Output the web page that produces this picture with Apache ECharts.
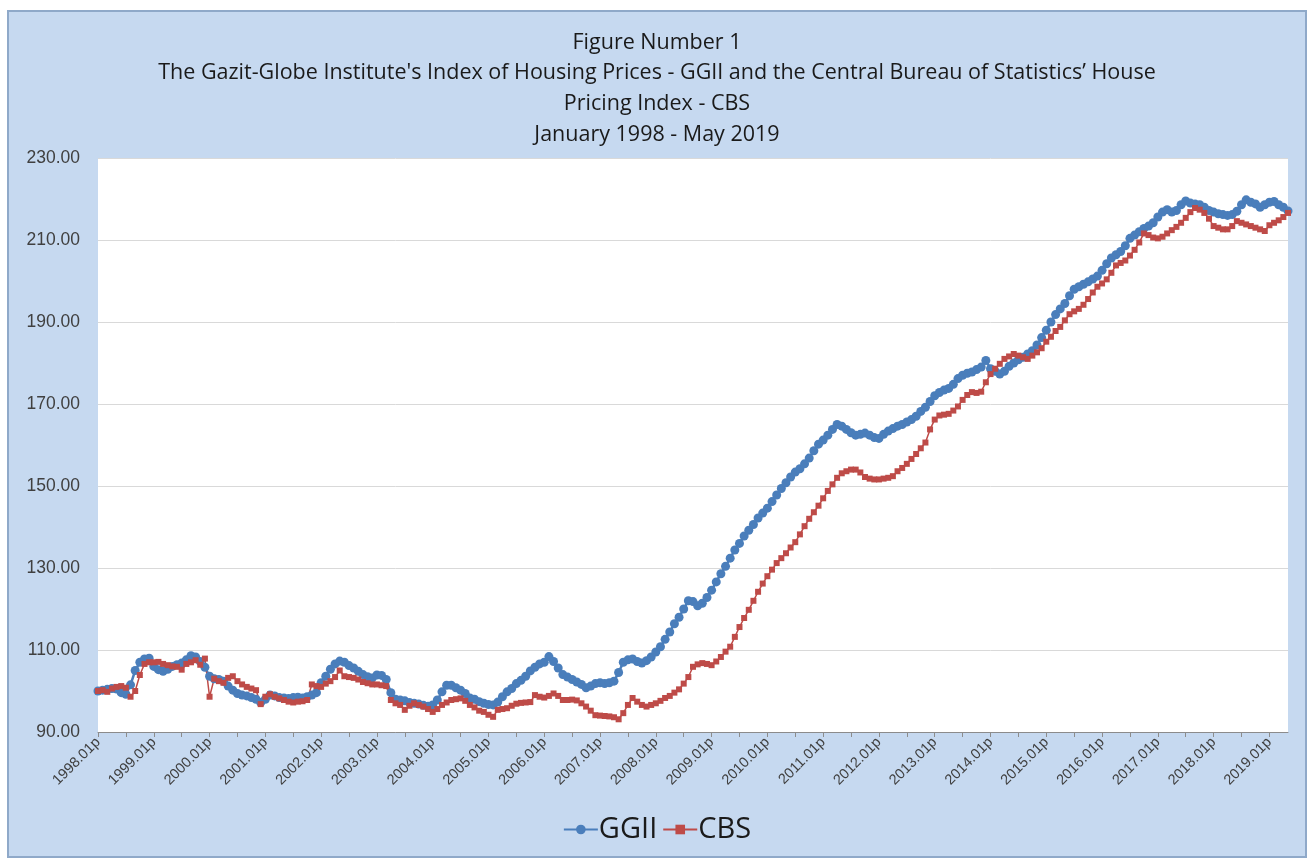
<!DOCTYPE html>
<html>
<head>
<meta charset="utf-8">
<title>GGII vs CBS</title>
<script src="https://cdn.jsdelivr.net/npm/echarts@6/dist/echarts.min.js"></script>
<style>
  html, body { margin: 0; padding: 0; background: #ffffff; }
  #chart { width: 1314px; height: 861px; }
</style>
</head>
<body>
<div id="chart"></div>
<script>
// monthly axis, 1998.01 .. 2019.05
const startYear = 1998;
const monthCount = 257;

const titleLines = [
  'Figure Number 1',
  "The Gazit-Globe Institute's Index of Housing Prices - GGII and the Central Bureau of Statistics\u2019 House",
  'Pricing Index - CBS',
  'January 1998 - May 2019'
];

const yTicks = [90, 110, 130, 150, 170, 190, 210, 230];

// GGII, one row per year
const ggii = [
  100.0, 100.2, 100.4, 100.6, 100.5, 99.6, 99.2, 101.5, 105.0, 107.0, 107.8, 108.0,
  106.0, 105.2, 104.8, 105.3, 106.0, 106.4, 106.8, 107.6, 108.6, 108.3, 107.2, 105.8,
  103.6, 103.0, 102.8, 102.4, 101.2, 100.2, 99.4, 99.0, 98.8, 98.4, 98.0, 97.2,
  98.0, 99.0, 98.8, 98.4, 98.3, 98.2, 98.4, 98.5, 98.3, 98.6, 99.0, 99.6,
  102.0, 103.6, 105.3, 106.6, 107.3, 107.0, 106.2, 105.6, 104.8, 104.0, 103.5, 103.2,
  103.9, 103.8, 102.8, 99.6, 98.0, 97.8, 97.6, 97.2, 97.0, 96.8, 96.5, 96.3,
  96.6, 97.8, 99.8, 101.4, 101.4, 100.8, 100.2, 99.4, 98.3, 98.0, 97.4, 97.0,
  96.7, 96.6, 97.3, 98.6, 99.8, 100.6, 101.8, 102.6, 103.6, 104.9, 105.8, 106.6,
  107.0, 108.4, 107.2, 105.6, 104.0, 103.4, 102.8, 102.2, 101.6, 100.8, 101.2, 101.8,
  102.0, 101.8, 102.0, 102.4, 104.5, 107.0, 107.6, 107.8, 107.2, 106.8, 107.4, 108.3,
  109.5, 110.8, 112.6, 114.4, 116.4, 118.0, 120.0, 122.0, 121.8, 120.8, 121.4, 122.8,
  124.6, 126.6, 128.6, 130.4, 132.4, 134.4, 136.0, 137.8, 139.2, 140.6, 142.2, 143.4,
  144.6, 146.2, 147.8, 149.4, 150.8, 152.2, 153.4, 154.2, 155.4, 156.8, 158.6, 160.2,
  161.2, 162.4, 163.8, 165.0, 164.6, 163.8, 163.0, 162.4, 162.6, 162.9, 162.4, 161.8,
  161.6, 162.6, 163.4, 164.0, 164.6, 165.0, 165.6, 166.2, 167.0, 168.2, 169.2, 170.6,
  172.0, 172.8, 173.4, 173.8, 174.8, 176.2, 177.0, 177.5, 177.8, 178.4, 179.0, 180.6,
  178.6, 178.0, 177.3, 178.0, 179.2, 180.0, 180.8, 181.4, 182.2, 183.0, 184.4, 186.2,
  188.0, 190.0, 191.8, 193.2, 194.5, 196.4, 198.0, 198.6, 199.2, 199.8, 200.5, 201.2,
  202.6, 204.2, 205.6, 206.4, 207.2, 208.6, 210.4, 211.2, 212.0, 212.8, 213.4, 214.2,
  215.6, 216.8, 217.4, 216.8, 217.2, 218.6, 219.5, 219.0, 218.8, 218.6, 218.0, 217.2,
  216.8, 216.4, 216.2, 216.0, 216.2, 217.0, 218.6, 219.8, 219.2, 218.8, 218.0, 218.6,
  219.2, 219.4, 218.6, 218.0, 217.1
];

// CBS, one row per year
const cbs = [
  100.0, 100.2, 99.8, 100.6, 101.0, 101.2, 100.8, 98.6, 100.0, 103.9, 106.6, 107.0,
  107.0, 107.1, 106.6, 106.3, 106.0, 105.9, 105.2, 106.6, 107.0, 107.5, 106.4, 107.9,
  98.6, 103.0, 102.4, 102.0, 103.2, 103.6, 102.4, 101.6, 101.0, 100.6, 100.2, 96.8,
  98.6, 99.2, 98.6, 98.2, 97.8, 97.4, 97.2, 97.4, 97.5, 97.8, 101.6, 101.2,
  101.0, 101.8, 102.4, 103.4, 105.0, 103.6, 103.4, 103.2, 102.8, 102.2, 101.9, 101.6,
  101.6, 101.4, 101.2, 97.8, 97.0, 96.6, 95.4, 96.4, 97.0, 96.6, 96.2, 95.6,
  94.9, 95.6, 96.6, 97.2, 97.8, 98.0, 98.2, 97.6, 96.6, 96.0, 95.2, 94.9,
  94.2, 93.7, 95.4, 95.6, 95.8, 96.4, 96.9, 97.1, 97.2, 97.3, 99.0, 98.6,
  98.4, 98.8, 99.4, 98.8, 97.8, 97.8, 97.9, 97.7, 97.0, 96.2, 95.2, 94.1,
  94.0, 93.9, 93.8, 93.6, 93.1, 94.6, 96.6, 98.3, 97.4, 96.6, 96.2, 96.6,
  97.0, 97.6, 98.3, 98.8, 99.6, 100.4, 101.8, 103.4, 105.9, 106.5, 106.8, 106.6,
  106.3, 107.2, 108.3, 109.6, 110.8, 113.2, 115.6, 117.8, 119.8, 122.0, 124.2, 126.2,
  128.0, 129.6, 131.2, 132.4, 133.6, 135.0, 136.3, 138.2, 140.2, 142.0, 143.6, 145.2,
  147.0, 148.8, 150.4, 152.0, 153.1, 153.6, 154.0, 154.0, 153.3, 152.2, 151.8, 151.6,
  151.6, 151.8, 152.0, 152.4, 153.6, 154.4, 155.4, 156.6, 157.8, 159.2, 160.6, 163.8,
  166.2, 167.2, 167.4, 167.6, 168.4, 169.4, 171.0, 172.2, 172.9, 172.7, 173.0, 175.3,
  177.3, 178.6, 179.8, 181.0, 181.6, 182.2, 181.8, 181.4, 181.0, 181.8, 182.6, 183.6,
  185.2, 186.4, 187.8, 188.8, 190.4, 191.9, 192.6, 193.2, 194.2, 195.6, 197.2, 198.6,
  199.4, 200.4, 202.0, 203.8, 204.4, 205.0, 206.2, 207.6, 209.4, 211.6, 211.2, 210.6,
  210.4, 210.8, 211.6, 212.4, 213.2, 214.2, 215.4, 216.8, 217.8, 217.4, 216.6, 215.2,
  213.4, 213.0, 212.6, 212.6, 213.4, 214.6, 214.2, 213.8, 213.4, 213.0, 212.6, 212.2,
  213.6, 214.2, 214.8, 215.6, 216.6
];

// labels like 1998.01p
const months = [];
for (let i = 0; i < monthCount; i++) {
  const y = startYear + Math.floor(i / 12);
  const m = (i % 12) + 1;
  months.push(y + '.' + (m < 10 ? '0' + m : m) + 'p');
}

const chart = echarts.init(document.getElementById('chart'));

const option = {
  animation: false,
  backgroundColor: '#ffffff',
  graphic: [
    {
      type: 'rect',
      z: -10,
      shape: { x: 8, y: 11, width: 1298, height: 846 },
      style: { fill: '#c6d9f0', stroke: '#8fa9c9', lineWidth: 2 }
    }
  ],
  title: {
    text: titleLines.join('\n'),
    left: 'center',
    top: 22,
    textStyle: {
      fontFamily: 'Open Sans',
      fontSize: 21.5,
      fontWeight: 'normal',
      color: '#1a1a1a',
      lineHeight: 30.8
    }
  },
  legend: {
    bottom: 12,
    left: 'center',
    itemWidth: 34,
    itemHeight: 12,
    itemGap: 5,
    textStyle: { fontFamily: 'Open Sans', fontSize: 29, color: '#1a1a1a', padding: [0, 0, 0, -4] },
    data: ['GGII', 'CBS']
  },
  grid: {
    left: 98,
    right: 26,
    top: 158,
    bottom: 129,
    show: true,
    backgroundColor: '#ffffff',
    borderWidth: 0
  },
  xAxis: {
    type: 'category',
    boundaryGap: false,
    data: months,
    axisLine: { lineStyle: { color: '#8c8c8c', width: 1 } },
    axisTick: { interval: 5, length: 5, lineStyle: { color: '#8c8c8c' } },
    axisLabel: {
      interval: 11,
      rotate: 45,
      margin: 8,
      fontFamily: 'Liberation Sans',
      fontSize: 14.5,
      color: '#404040'
    },
    splitLine: { show: false }
  },
  yAxis: {
    type: 'value',
    min: yTicks[0],
    max: yTicks[yTicks.length - 1],
    interval: 20,
    axisLine: { show: false },
    axisTick: { show: false },
    axisLabel: {
      margin: 18,
      fontFamily: 'Liberation Sans',
      fontSize: 17.5,
      color: '#404040',
      formatter: v => v.toFixed(2)
    },
    splitLine: { lineStyle: { color: '#d9d9d9', width: 1 } }
  },
  series: [
    {
      name: 'GGII',
      type: 'line',
      data: ggii,
      symbol: 'circle',
      symbolSize: 9,
      showAllSymbol: true,
      itemStyle: { color: '#4a7ebb' },
      lineStyle: { color: '#4a7ebb', width: 2.5 }
    },
    {
      name: 'CBS',
      type: 'line',
      data: cbs,
      symbol: 'rect',
      symbolSize: 6,
      showAllSymbol: true,
      itemStyle: { color: '#be4b48' },
      lineStyle: { color: '#be4b48', width: 1.5 }
    }
  ]
};

chart.setOption(option);
</script>
</body>
</html>
